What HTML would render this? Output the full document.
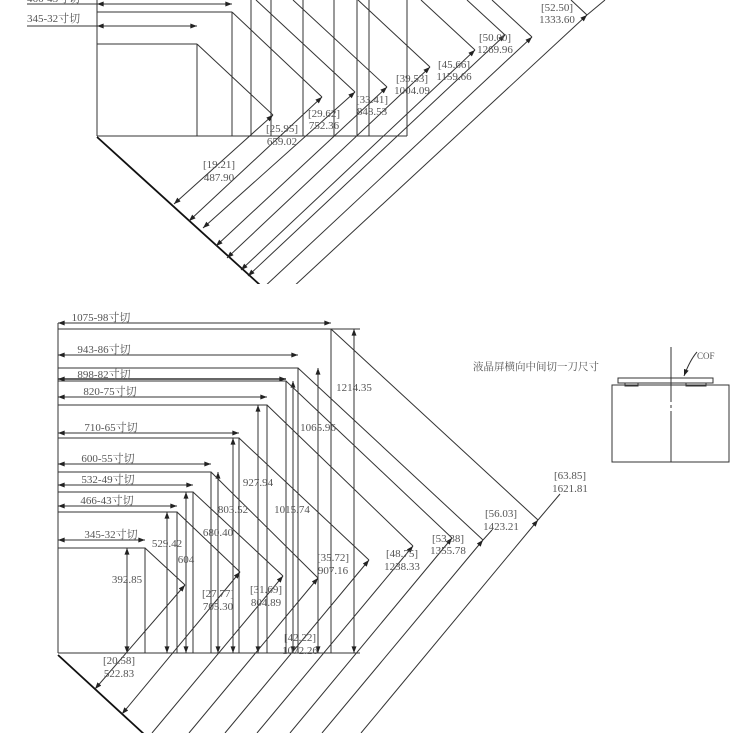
<!DOCTYPE html>
<html><head><meta charset="utf-8"><style>
html,body{margin:0;padding:0;background:#fff;}
svg{display:block;}
text{font-family:"Liberation Serif","Noto Serif CJK SC",serif;font-size:11px;fill:#555;}
.c{text-anchor:middle;}
</style></head><body>
<svg width="750" height="733" viewBox="0 0 750 733" xmlns="http://www.w3.org/2000/svg">
<defs>
<marker id="a" viewBox="0 0 8 6" refX="8" refY="3" markerWidth="7" markerHeight="5" markerUnits="userSpaceOnUse" orient="auto-start-reverse"><path d="M0,0 L8,3 L0,6 z" fill="#222"/></marker>
<clipPath id="ct"><rect x="0" y="0" width="750" height="284"/></clipPath>
</defs>
<g stroke="#333" stroke-width="1" fill="none">
<!-- ===== TOP DIAGRAM ===== -->
<g clip-path="url(#ct)">
<line x1="97" y1="0" x2="97" y2="136"/>
<line x1="97" y1="136" x2="407" y2="136"/>
<line x1="97" y1="44" x2="197" y2="44"/><line x1="197" y1="44" x2="197" y2="136"/>
<line x1="97" y1="12" x2="232" y2="12"/><line x1="232" y1="12" x2="232" y2="136"/>
<line x1="251" y1="0" x2="251" y2="136"/><line x1="271" y1="0" x2="271" y2="136"/>
<line x1="303" y1="0" x2="303" y2="136"/><line x1="334" y1="0" x2="334" y2="136"/>
<line x1="357" y1="0" x2="357" y2="136"/><line x1="369" y1="0" x2="369" y2="136"/>
<line x1="407" y1="0" x2="407" y2="136"/>
<line x1="27" y1="26" x2="97" y2="26"/>
<line x1="97" y1="26" x2="197" y2="26" marker-start="url(#a)" marker-end="url(#a)"/>
<line x1="27" y1="4" x2="97" y2="4"/>
<line x1="97" y1="4" x2="232" y2="4" marker-start="url(#a)" marker-end="url(#a)"/>
<!-- base -->
<line x1="97" y1="137" x2="260" y2="285" stroke-width="1.8" stroke="#111"/>
<!-- extension lines -->
<line x1="197" y1="44" x2="273" y2="115"/>
<line x1="232" y1="12" x2="322" y2="97"/>
<line x1="256" y1="0" x2="355" y2="92"/>
<line x1="293" y1="0" x2="387" y2="87"/>
<line x1="358" y1="0" x2="430" y2="67"/>
<line x1="421" y1="0" x2="475" y2="50"/>
<line x1="467" y1="0" x2="505" y2="35"/>
<line x1="492" y1="0" x2="532" y2="37"/>
<line x1="571" y1="0" x2="587" y2="15"/>
<!-- dim lines -->
<line x1="174" y1="204" x2="273" y2="115" marker-start="url(#a)" marker-end="url(#a)"/>
<line x1="189" y1="221" x2="322" y2="97" marker-start="url(#a)" marker-end="url(#a)"/>
<line x1="203" y1="228" x2="355" y2="92" marker-start="url(#a)" marker-end="url(#a)"/>
<line x1="216" y1="246" x2="387" y2="87" marker-start="url(#a)" marker-end="url(#a)"/>
<line x1="227" y1="258" x2="430" y2="67" marker-start="url(#a)" marker-end="url(#a)"/>
<line x1="241" y1="270" x2="475" y2="50" marker-start="url(#a)" marker-end="url(#a)"/>
<line x1="248" y1="276" x2="505" y2="35" marker-start="url(#a)" marker-end="url(#a)"/>
<line x1="262" y1="289" x2="532" y2="37" marker-end="url(#a)"/>
<line x1="278" y1="301" x2="587" y2="15" marker-end="url(#a)"/>
<line x1="587" y1="15" x2="605" y2="0"/>
</g>
<!-- ===== BOTTOM DIAGRAM ===== -->
<line x1="58" y1="323" x2="58" y2="653"/>
<line x1="58" y1="653" x2="360" y2="653"/>
<!-- rects -->
<polyline points="58,329 331,329 331,653"/>
<polyline points="58,368 298,368 298,653"/>
<polyline points="58,381 286,381 286,653"/>
<polyline points="58,405 267,405 267,653"/>
<polyline points="58,438 239,438 239,653"/>
<polyline points="58,472 211,472 211,653"/>
<polyline points="58,492 193,492 193,653"/>
<polyline points="58,512 177,512 177,653"/>
<polyline points="58,548 145,548 145,653"/>
<line x1="331" y1="329" x2="360" y2="329"/>
<!-- width dims -->
<line x1="58" y1="323" x2="331" y2="323" marker-start="url(#a)" marker-end="url(#a)"/>
<line x1="58" y1="355" x2="298" y2="355" marker-start="url(#a)" marker-end="url(#a)"/>
<line x1="58" y1="379" x2="286" y2="379" marker-start="url(#a)" marker-end="url(#a)" stroke-width="1.6"/>
<line x1="58" y1="397" x2="267" y2="397" marker-start="url(#a)" marker-end="url(#a)"/>
<line x1="58" y1="433" x2="239" y2="433" marker-start="url(#a)" marker-end="url(#a)"/>
<line x1="58" y1="464" x2="211" y2="464" marker-start="url(#a)" marker-end="url(#a)"/>
<line x1="58" y1="485" x2="193" y2="485" marker-start="url(#a)" marker-end="url(#a)"/>
<line x1="58" y1="506" x2="177" y2="506" marker-start="url(#a)" marker-end="url(#a)"/>
<line x1="58" y1="540" x2="145" y2="540" marker-start="url(#a)" marker-end="url(#a)"/>
<!-- height dims -->
<line x1="127" y1="548" x2="127" y2="653" marker-start="url(#a)" marker-end="url(#a)"/>
<line x1="167" y1="512" x2="167" y2="653" marker-start="url(#a)" marker-end="url(#a)"/>
<line x1="186" y1="492" x2="186" y2="653" marker-start="url(#a)" marker-end="url(#a)"/>
<line x1="218" y1="472" x2="218" y2="653" marker-start="url(#a)" marker-end="url(#a)"/>
<line x1="233" y1="438" x2="233" y2="653" marker-start="url(#a)" marker-end="url(#a)"/>
<line x1="258" y1="405" x2="258" y2="653" marker-start="url(#a)" marker-end="url(#a)"/>
<line x1="293" y1="381" x2="293" y2="653" marker-start="url(#a)" marker-end="url(#a)"/>
<line x1="318" y1="368" x2="318" y2="653" marker-start="url(#a)" marker-end="url(#a)"/>
<line x1="354" y1="329" x2="354" y2="653" marker-start="url(#a)" marker-end="url(#a)"/>
<!-- base -->
<line x1="58" y1="655" x2="145" y2="735" stroke-width="1.8" stroke="#111"/>
<!-- extension lines -->
<line x1="145" y1="548" x2="185" y2="585"/>
<line x1="177" y1="512" x2="240" y2="572"/>
<line x1="193" y1="492" x2="283" y2="576"/>
<line x1="211" y1="472" x2="318" y2="578"/>
<line x1="239" y1="438" x2="369" y2="560"/>
<line x1="267" y1="405" x2="413" y2="546"/>
<line x1="286" y1="381" x2="452" y2="538"/>
<line x1="298" y1="368" x2="483" y2="540"/>
<line x1="331" y1="329" x2="538" y2="520"/>
<!-- dim lines -->
<line x1="95" y1="689" x2="185" y2="585" marker-start="url(#a)" marker-end="url(#a)"/>
<line x1="122" y1="714" x2="240" y2="572" marker-start="url(#a)" marker-end="url(#a)"/>
<line x1="152" y1="733" x2="283" y2="576" marker-end="url(#a)"/>
<line x1="189" y1="733" x2="318" y2="578" marker-end="url(#a)"/>
<line x1="225" y1="733" x2="369" y2="560" marker-end="url(#a)"/>
<line x1="257" y1="733" x2="413" y2="546" marker-end="url(#a)"/>
<line x1="290" y1="733" x2="452" y2="538" marker-end="url(#a)"/>
<line x1="322" y1="733" x2="483" y2="540" marker-end="url(#a)"/>
<line x1="361" y1="733" x2="538" y2="520" marker-end="url(#a)"/>
<line x1="538" y1="520" x2="560" y2="494"/>
<line x1="483" y1="540" x2="492" y2="530"/>
<!-- COF diagram -->
<line x1="671" y1="347" x2="671" y2="402"/>
<line x1="671" y1="405" x2="671" y2="408"/>
<line x1="671" y1="411" x2="671" y2="462"/>
<rect x="612" y="385" width="117" height="77"/>
<rect x="618" y="378" width="95" height="5"/>
<rect x="625" y="383" width="13" height="3"/>
<rect x="686" y="383" width="20" height="3"/>
<path d="M697,352 Q690,360 684,376" marker-end="url(#a)"/>
</g>
<!-- ===== TEXT ===== -->
<text x="27" y="2">466-43寸切</text>
<text x="27" y="22">345-32寸切</text>
<text class="c" x="282" y="132">[25.95]</text><text class="c" x="282" y="145">659.02</text>
<text class="c" x="324" y="117">[29.62]</text><text class="c" x="324" y="129">752.36</text>
<text class="c" x="372" y="103">[33.41]</text><text class="c" x="372" y="115">848.53</text>
<text class="c" x="412" y="82">[39.53]</text><text class="c" x="412" y="94">1004.09</text>
<text class="c" x="454" y="68">[45.66]</text><text class="c" x="454" y="80">1159.66</text>
<text class="c" x="495" y="41">[50.00]</text><text class="c" x="495" y="53">1269.96</text>
<text class="c" x="557" y="11">[52.50]</text><text class="c" x="557" y="23">1333.60</text>
<text class="c" x="219" y="168">[19.21]</text><text class="c" x="219" y="181">487.90</text>

<text class="c" x="101" y="321">1075-98寸切</text>
<text class="c" x="104" y="353">943-86寸切</text>
<text class="c" x="104" y="378">898-82寸切</text>
<text class="c" x="110" y="395">820-75寸切</text>
<text class="c" x="111" y="431">710-65寸切</text>
<text class="c" x="108" y="462">600-55寸切</text>
<text class="c" x="108" y="483">532-49寸切</text>
<text class="c" x="107" y="504">466-43寸切</text>
<text class="c" x="111" y="538">345-32寸切</text>

<text class="c" x="127" y="583">392.85</text>
<text class="c" x="167" y="547">529.42</text>
<text class="c" x="186" y="563">604</text>
<text class="c" x="218" y="536">680.40</text>
<text class="c" x="233" y="513">803.52</text>
<text class="c" x="258" y="486">927.94</text>
<text class="c" x="292" y="513">1015.74</text>
<text class="c" x="318" y="431">1065.96</text>
<text class="c" x="354" y="391">1214.35</text>

<text class="c" x="119" y="664">[20.58]</text><text class="c" x="119" y="677">522.83</text>
<text class="c" x="218" y="597">[27.77]</text><text class="c" x="218" y="610">705.30</text>
<text class="c" x="266" y="593">[31.69]</text><text class="c" x="266" y="606">804.89</text>
<text class="c" x="333" y="561">[35.72]</text><text class="c" x="333" y="574">907.16</text>
<text class="c" x="300" y="641">[42.22]</text><text class="c" x="300" y="654">1072.26</text>
<text class="c" x="402" y="557">[48.75]</text><text class="c" x="402" y="570">1238.33</text>
<text class="c" x="448" y="542">[53.38]</text><text class="c" x="448" y="554">1355.78</text>
<text class="c" x="501" y="517">[56.03]</text><text class="c" x="501" y="530">1423.21</text>
<text class="c" x="570" y="479">[63.85]</text><text class="c" x="570" y="492">1621.81</text>

<text x="473" y="370" style="font-size:10.5px">液晶屏横向中间切一刀尺寸</text>
<text x="697" y="359" style="font-size:9px">COF</text>
</svg>
</body></html>
